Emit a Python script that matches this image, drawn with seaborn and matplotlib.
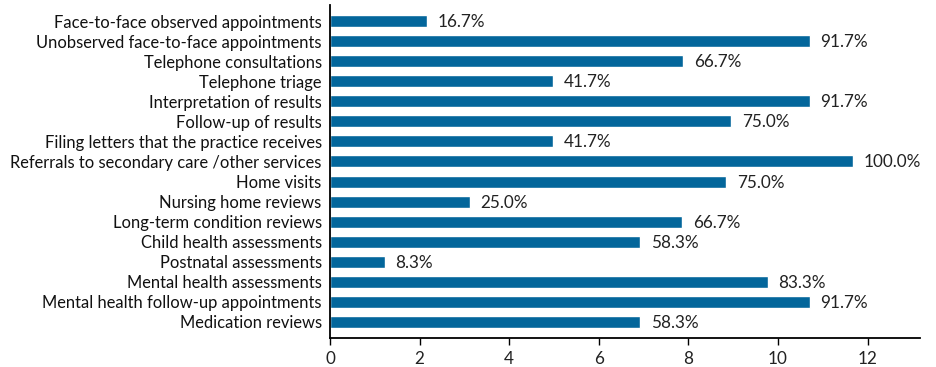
import matplotlib
matplotlib.use("Agg")
import matplotlib.pyplot as plt
import seaborn as sns
import pandas as pd

categories = [
    "Face-to-face observed appointments",
    "Unobserved face-to-face appointments",
    "Telephone consultations",
    "Telephone triage",
    "Interpretation of results",
    "Follow-up of results",
    "Filing letters that the practice receives",
    "Referrals to secondary care /other services",
    "Home visits",
    "Nursing home reviews",
    "Long-term condition reviews",
    "Child health assessments",
    "Postnatal assessments",
    "Mental health assessments",
    "Mental health follow-up appointments",
    "Medication reviews",
]
values = [2.17, 10.71, 7.89, 4.97, 10.71, 8.95, 4.97, 11.67, 8.84, 3.12,
          7.86, 6.93, 1.22, 9.77, 10.71, 6.93]
pct_labels = ["16.7%", "91.7%", "66.7%", "41.7%", "91.7%", "75.0%", "41.7%",
              "100.0%", "75.0%", "25.0%", "66.7%", "58.3%", "8.3%", "83.3%",
              "91.7%", "58.3%"]
x_ticks = [0, 2, 4, 6, 8, 10, 12]

df = pd.DataFrame({"category": categories, "value": values})

sns.set_theme(style="white")
plt.rcParams["font.family"] = ["Lato", "DejaVu Sans"]

fig = plt.figure(figsize=(9.37, 3.67), dpi=100)
ax = fig.add_axes([330 / 937, 1 - 338 / 367, 590 / 937, 333 / 367])

sns.barplot(data=df, x="value", y="category", orient="h", color="#03669b",
            saturation=1, width=0.6, ax=ax)

for i, (v, lab) in enumerate(zip(values, pct_labels)):
    ax.text(v + 0.24, i + 0.05, lab, va="center", ha="left", fontsize=12.3,
            color="#222222")

ax.set_xlim(0, 13.17)
ax.set_ylim(15.82, -0.82)
ax.set_xticks(x_ticks)
ax.set_xticklabels([str(t) for t in x_ticks], fontsize=12.3, color="#222222")
ax.set_xlabel("")
ax.set_ylabel("")
ax.tick_params(axis="y", length=0, labelsize=11.9, labelcolor="#111111", pad=6)
ax.tick_params(axis="x", length=5, width=1, direction="out", color="black",
               bottom=True, pad=4)
for s in ["top", "right"]:
    ax.spines[s].set_visible(False)
for s in ["left", "bottom"]:
    ax.spines[s].set_color("black")
    ax.spines[s].set_linewidth(1.3)

fig.savefig("out.png", dpi=100)
